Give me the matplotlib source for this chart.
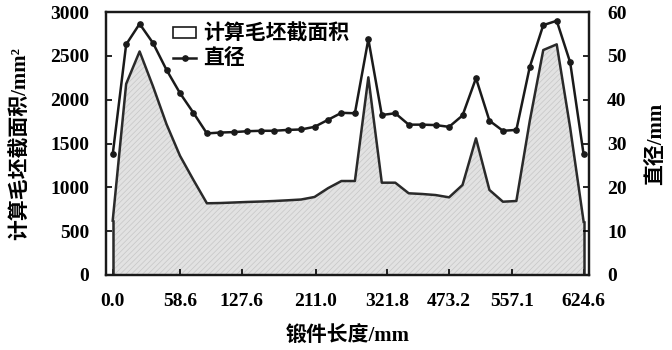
import numpy as np
import matplotlib
matplotlib.use("Agg")
import matplotlib.pyplot as plt
from matplotlib.patches import Patch
from matplotlib.lines import Line2D

# blank section area (mm^2) and diameter (mm) at each forging station
area_mm2 = [620, 2180, 2550, 2150, 1720, 1360, 1084, 818, 821, 827,
            833, 838, 844, 852, 861, 890, 990, 1072, 1072, 2255,
            1053, 1053, 932, 924, 912, 886, 1027, 1559, 970, 836,
            844, 1760, 2566, 2631, 1680, 608]
diameter_mm = [27.5, 52.6, 57.3, 52.9, 46.8, 41.5, 37.0, 32.3, 32.5, 32.6,
               32.8, 32.9, 32.9, 33.1, 33.2, 33.8, 35.4, 37.0, 36.9, 53.8,
               36.5, 36.9, 34.3, 34.3, 34.2, 33.8, 36.4, 44.9, 35.2, 32.9,
               33.1, 47.5, 57.0, 58.0, 48.5, 27.5]
station = np.arange(len(diameter_mm))

xtick_pos = [0, 5, 9.6, 15.1, 20.4, 25, 29.7, 35]
xtick_labels = ["0.0", "58.6", "127.6", "211.0", "321.8", "473.2", "557.1", "624.6"]

num_font = "Liberation Serif"
cjk = ["Liberation Serif", "Noto Sans CJK SC"]
plt.rcParams["hatch.color"] = "#c6c6c6"
plt.rcParams["hatch.linewidth"] = 0.5

fig = plt.figure(figsize=(6.72, 3.5), dpi=100)
ax = fig.add_axes([0.1577, 0.2143, 0.7188, 0.7514])
ax2 = ax.twinx()

ax.fill_between(station, 0, area_mm2, facecolor="#e2e2e2", hatch="//////",
                edgecolor="#c6c6c6", linewidth=0)
ax.plot(station, area_mm2, color="#2a2a2a", lw=1.8)
ax.plot([station[0], station[0]], [0, area_mm2[0]], color="#2a2a2a", lw=1.8)
ax.plot([station[-1], station[-1]], [0, area_mm2[-1]], color="#2a2a2a", lw=1.8)

ax2.plot(station, diameter_mm, color="#1a1a1a", lw=1.8, marker="o", ms=3.8)

ax.set_xlim(-0.5, 35.4)
ax.set_ylim(0, 3000)
ax2.set_ylim(0, 60)
ax.set_yticks(range(0, 3001, 500))
ax2.set_yticks(range(0, 61, 10))
ax.set_xticks(xtick_pos)
ax.set_xticklabels(xtick_labels)

for a in (ax, ax2):
    for s in a.spines.values():
        s.set_linewidth(1.6)
        s.set_color("#1a1a1a")
ax.tick_params(axis="x", direction="in", length=4, width=1.2, pad=13)
ax.tick_params(axis="y", direction="in", length=4, width=1.2, pad=12)
ax2.tick_params(axis="y", direction="in", length=4, width=1.2, pad=13)
for lab in ax.get_xticklabels():
    lab.set_fontfamily(num_font)
    lab.set_fontweight("bold")
    lab.set_fontsize(14)
for lab in ax.get_yticklabels() + ax2.get_yticklabels():
    lab.set_fontfamily(num_font)
    lab.set_fontweight("bold")
    lab.set_fontsize(14)

ax.set_xlabel("锻件长度/mm", family=cjk, fontsize=15, fontweight="bold", labelpad=12)
ax.set_ylabel("计算毛坯截面积/mm²", family=cjk, fontsize=15, fontweight="bold", labelpad=14)
ax2.set_ylabel("直径/mm", family=cjk, fontsize=15, fontweight="bold", labelpad=14)

handles = [Patch(facecolor="white", edgecolor="#1a1a1a", linewidth=1.2),
           Line2D([], [], color="#1a1a1a", lw=1.8, marker="o", ms=3.8)]
leg = ax.legend(handles, ["计算毛坯截面积", "直径"], loc="upper left",
                bbox_to_anchor=(0.118, 0.99), frameon=False, borderpad=0,
                handlelength=1.1, handleheight=0.45, handletextpad=0.35,
                labelspacing=0.2, prop={"family": cjk, "size": 15, "weight": "bold"})

fig.savefig("out.png", dpi=100)
